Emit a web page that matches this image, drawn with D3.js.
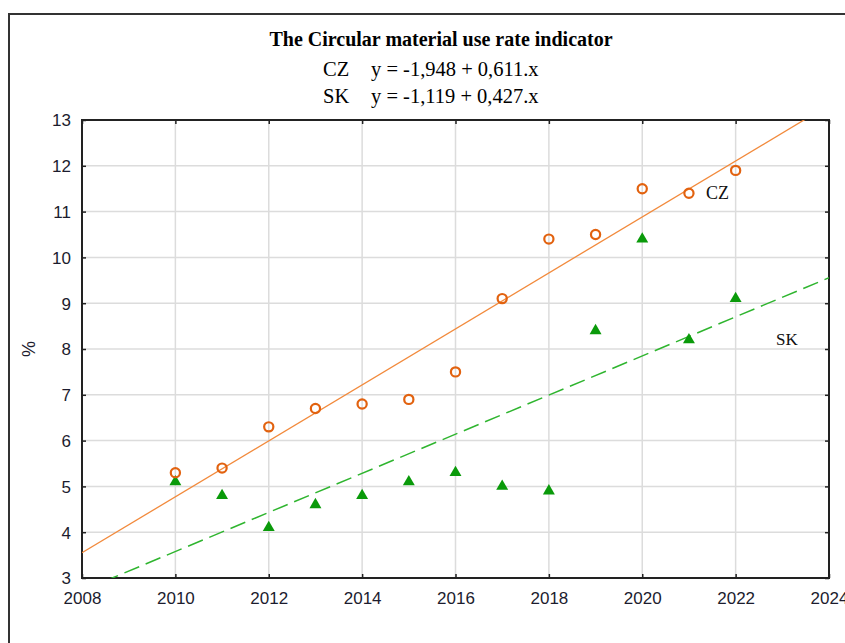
<!DOCTYPE html>
<html>
<head>
<meta charset="utf-8">
<script src="https://cdn.jsdelivr.net/npm/d3@7"></script>
<style>
  body { margin: 0; background: #fff; }
  svg { display: block; }
</style>
</head>
<body>
<svg width="845" height="643"></svg>
<script>
// data
const years = [2010, 2011, 2012, 2013, 2014, 2015, 2016, 2017, 2018, 2019, 2020, 2021, 2022];
const czValues = [5.3, 5.4, 6.3, 6.7, 6.8, 6.9, 7.5, 9.1, 10.4, 10.5, 11.5, 11.4, 11.9];
const skValues = [5.1, 4.8, 4.1, 4.6, 4.8, 5.1, 5.3, 5.0, 4.9, 8.4, 10.4, 8.2, 9.1];
// regression y = a + b.x, x counted from 1999
const czFit = [-1.948, 0.611];
const skFit = [-1.119, 0.427];
const xTicks = [2008, 2010, 2012, 2014, 2016, 2018, 2020, 2022, 2024];
const yTicks = [3, 4, 5, 6, 7, 8, 9, 10, 11, 12, 13];

const svg = d3.select("svg");
const pLeft = 82, pRight = 829, pTop = 120, pBottom = 578;

const x = d3.scaleLinear().domain([2008, 2024]).range([pLeft, pRight]);
const y = d3.scaleLinear().domain([3, 13]).range([pBottom, pTop]);

// outer frame
svg.append("path")
    .attr("d", `M9,643 V14 H845`)
    .attr("fill", "none")
    .attr("stroke", "#333")
    .attr("stroke-width", 2);

// grid
svg.append("g").selectAll("line")
    .data(xTicks.slice(1, -1))
    .join("line")
    .attr("x1", d => x(d)).attr("x2", d => x(d))
    .attr("y1", pTop).attr("y2", pBottom)
    .attr("stroke", "#dcdcdc").attr("stroke-width", 1.5);
svg.append("g").selectAll("line")
    .data(yTicks.slice(1, -1))
    .join("line")
    .attr("y1", d => y(d)).attr("y2", d => y(d))
    .attr("x1", pLeft).attr("x2", pRight)
    .attr("stroke", "#dcdcdc").attr("stroke-width", 1.5);

// axes with inward ticks
const tickFont = "'Liberation Sans', Arial, sans-serif";
const xAxis = svg.append("g")
    .attr("transform", `translate(0,${pBottom})`)
    .call(d3.axisBottom(x).tickValues(xTicks).tickFormat(d3.format("d")).tickSizeInner(-4).tickSizeOuter(0).tickPadding(14));
const yAxis = svg.append("g")
    .attr("transform", `translate(${pLeft},0)`)
    .call(d3.axisLeft(y).tickValues(yTicks).tickSizeInner(-4).tickSizeOuter(0).tickPadding(11));
svg.append("g")
    .attr("transform", `translate(0,${pTop})`)
    .call(d3.axisTop(x).tickValues(xTicks).tickSizeInner(-4).tickSizeOuter(0).tickFormat(""));
svg.append("g")
    .attr("transform", `translate(${pRight},0)`)
    .call(d3.axisRight(y).tickValues(yTicks).tickSizeInner(-4).tickSizeOuter(0).tickFormat(""));
svg.selectAll(".domain").attr("stroke", "none");
svg.selectAll(".tick line").attr("stroke", "#222").attr("stroke-width", 1.5);
[xAxis, yAxis].forEach(g => g.selectAll("text")
    .attr("font-family", tickFont)
    .attr("font-size", 17)
    .attr("fill", "#1c1c2e"));
yAxis.selectAll("text").attr("dy", "0.35em");
xAxis.selectAll("text").attr("dy", "0.71em");

// plot frame
svg.append("rect")
    .attr("x", pLeft).attr("y", pTop)
    .attr("width", pRight - pLeft).attr("height", pBottom - pTop)
    .attr("fill", "none").attr("stroke", "#222").attr("stroke-width", 2);

// regression lines, clipped to plot
svg.append("clipPath").attr("id", "plotclip")
    .append("rect").attr("x", pLeft).attr("y", pTop)
    .attr("width", pRight - pLeft).attr("height", pBottom - pTop);

const fitLine = fit => [2008, 2024].map(yr => [yr, fit[0] + fit[1] * (yr - 1999)]);
const line = d3.line().x(d => x(d[0])).y(d => y(d[1]));

svg.append("path")
    .datum(fitLine(czFit))
    .attr("clip-path", "url(#plotclip)")
    .attr("d", line)
    .attr("fill", "none")
    .attr("stroke", "#f28a3c")
    .attr("stroke-width", 1.3);

svg.append("path")
    .datum(fitLine(skFit))
    .attr("clip-path", "url(#plotclip)")
    .attr("d", line)
    .attr("fill", "none")
    .attr("stroke", "#2fb52f")
    .attr("stroke-width", 1.5)
    .attr("stroke-dasharray", "16,7");

// SK points - filled triangles
svg.append("g").selectAll("path")
    .data(years.map((yr, i) => [yr, skValues[i]]))
    .join("path")
    .attr("transform", d => `translate(${x(d[0])},${y(d[1])})`)
    .attr("d", d3.symbol().type(d3.symbolTriangle).size(62))
    .attr("fill", "#0a9a0a");

// CZ points - open circles
svg.append("g").selectAll("circle")
    .data(years.map((yr, i) => [yr, czValues[i]]))
    .join("circle")
    .attr("cx", d => x(d[0]))
    .attr("cy", d => y(d[1]))
    .attr("r", 4.6)
    .attr("fill", "none")
    .attr("stroke", "#e2620f")
    .attr("stroke-width", 2.2);

// series labels
const serif = "'Liberation Serif', 'Times New Roman', serif";
svg.append("text").attr("x", 706).attr("y", 199).text("CZ")
    .attr("font-family", serif).attr("font-size", 18).attr("fill", "#111");
svg.append("text").attr("x", 776).attr("y", 345).text("SK")
    .attr("font-family", serif).attr("font-size", 17).attr("fill", "#111");

// title and equations
svg.append("text").attr("x", 441).attr("y", 46)
    .attr("text-anchor", "middle")
    .attr("font-family", serif).attr("font-size", 20).attr("font-weight", "bold")
    .text("The Circular material use rate indicator");

const eqRows = [["CZ", czFit, 76], ["SK", skFit, 103]];
const fmt = v => v.toFixed(3).replace(".", ",");
eqRows.forEach(([name, fit, yy]) => {
    svg.append("text").attr("x", 323).attr("y", yy)
        .attr("font-family", serif).attr("font-size", 20.5)
        .text(name);
    svg.append("text").attr("x", 371).attr("y", yy)
        .attr("font-family", serif).attr("font-size", 20.5)
        .text(`y = ${fmt(fit[0])} + ${fmt(fit[1])}.x`);
});

// y label
svg.append("text")
    .attr("transform", "translate(35,349) rotate(-90)")
    .attr("text-anchor", "middle")
    .attr("font-family", tickFont).attr("font-size", 18).attr("fill", "#1c1c2e")
    .text("%");
</script>
</body>
</html>
